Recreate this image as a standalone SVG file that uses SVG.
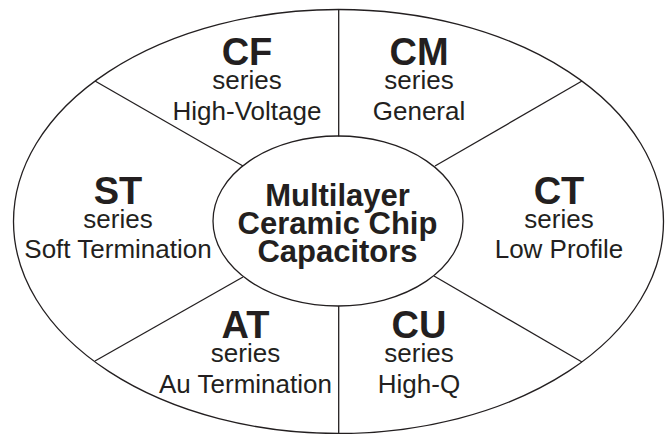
<svg xmlns="http://www.w3.org/2000/svg" width="669" height="434" viewBox="0 0 669 434">
<style>
.ln{fill:none;stroke:#231f20;stroke-width:1.3}
text{font-family:"Liberation Sans",Arial,sans-serif;fill:#231f20;text-anchor:middle}
.t{font-size:38px;font-weight:bold}
.s{font-size:26px}
.c{font-size:31px;font-weight:bold}
</style>
<rect width="669" height="434" fill="#fff"/>
<g id="outer"><ellipse class="ln" cx="338.5" cy="221.5" rx="325" ry="212"/></g>
<g id="connectors">
<line class="ln" x1="338.7" y1="9.5" x2="338.7" y2="136.5"/>
<line class="ln" x1="338.7" y1="306" x2="338.7" y2="434"/>
<line class="ln" x1="95" y1="81" x2="243" y2="166"/>
<line class="ln" x1="582" y1="81" x2="435" y2="166"/>
<line class="ln" x1="95" y1="361" x2="243" y2="277"/>
<line class="ln" x1="582" y1="362" x2="434" y2="276"/>
</g>
<g id="center">
<ellipse class="ln" cx="338" cy="221" rx="125" ry="85"/>
<text class="c" x="337.5" y="206">Multilayer</text>
<text class="c" x="337.5" y="234">Ceramic Chip</text>
<text class="c" x="337.5" y="262">Capacitors</text>
</g>
<g id="cf">
<text class="t" x="247" y="65">CF</text>
<text class="s" x="247" y="89">series</text>
<text class="s" x="247" y="120">High-Voltage</text>
</g>
<g id="cm">
<text class="t" x="419" y="65">CM</text>
<text class="s" x="419" y="89">series</text>
<text class="s" x="419" y="120">General</text>
</g>
<g id="st">
<text class="t" x="118" y="204">ST</text>
<text class="s" x="118" y="228">series</text>
<text class="s" x="118" y="258">Soft Termination</text>
</g>
<g id="ct">
<text class="t" x="559" y="204">CT</text>
<text class="s" x="559" y="228">series</text>
<text class="s" x="559" y="258">Low Profile</text>
</g>
<g id="at">
<text class="t" x="245.5" y="338">AT</text>
<text class="s" x="245.5" y="362">series</text>
<text class="s" x="245.5" y="393">Au Termination</text>
</g>
<g id="cu">
<text class="t" x="419" y="338">CU</text>
<text class="s" x="419" y="362">series</text>
<text class="s" x="419" y="393">High-Q</text>
</g>
</svg>
